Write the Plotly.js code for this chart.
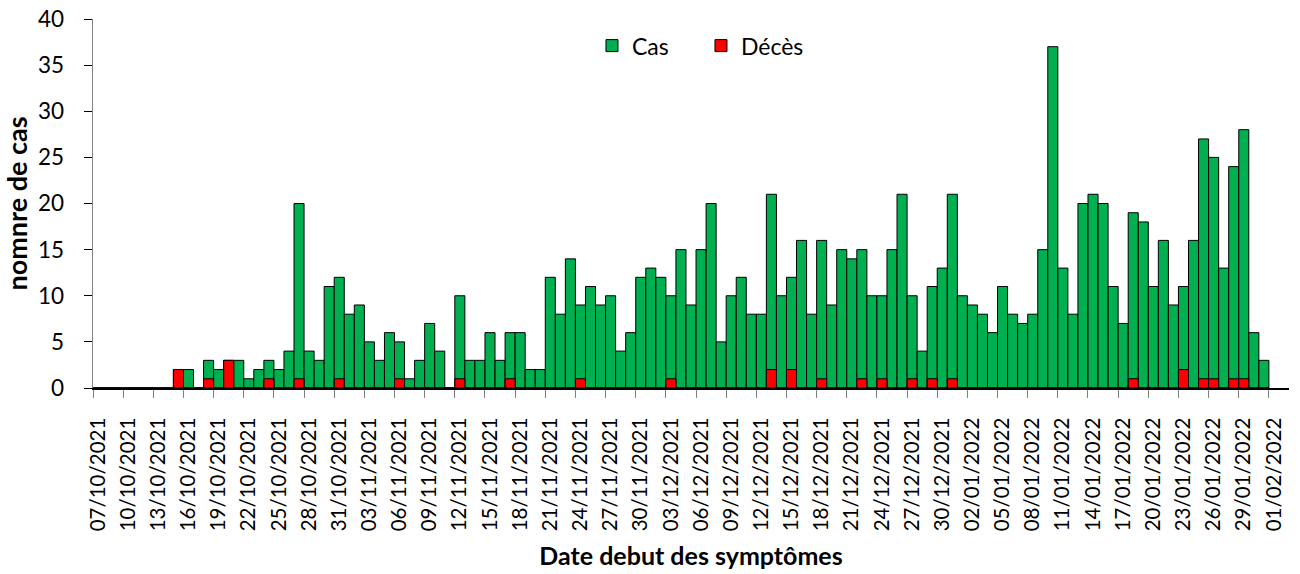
<!DOCTYPE html>
<html>
<head>
<meta charset="utf-8">
<script src="https://cdn.plot.ly/plotly-3.0.1.min.js"></script>
<style>
  html, body { margin: 0; padding: 0; background: #ffffff; }
  #chart { width: 1300px; height: 574px; }
</style>
</head>
<body>
<div id="chart"></div>
<script>
// Dates (date de début des symptômes), one per day
const dates = [
  "2021-10-07","2021-10-08","2021-10-09","2021-10-10","2021-10-11","2021-10-12","2021-10-13","2021-10-14",
  "2021-10-15","2021-10-16","2021-10-17","2021-10-18","2021-10-19","2021-10-20","2021-10-21","2021-10-22",
  "2021-10-23","2021-10-24","2021-10-25","2021-10-26","2021-10-27","2021-10-28","2021-10-29","2021-10-30",
  "2021-10-31","2021-11-01","2021-11-02","2021-11-03","2021-11-04","2021-11-05","2021-11-06","2021-11-07",
  "2021-11-08","2021-11-09","2021-11-10","2021-11-11","2021-11-12","2021-11-13","2021-11-14","2021-11-15",
  "2021-11-16","2021-11-17","2021-11-18","2021-11-19","2021-11-20","2021-11-21","2021-11-22","2021-11-23",
  "2021-11-24","2021-11-25","2021-11-26","2021-11-27","2021-11-28","2021-11-29","2021-11-30","2021-12-01",
  "2021-12-02","2021-12-03","2021-12-04","2021-12-05","2021-12-06","2021-12-07","2021-12-08","2021-12-09",
  "2021-12-10","2021-12-11","2021-12-12","2021-12-13","2021-12-14","2021-12-15","2021-12-16","2021-12-17",
  "2021-12-18","2021-12-19","2021-12-20","2021-12-21","2021-12-22","2021-12-23","2021-12-24","2021-12-25",
  "2021-12-26","2021-12-27","2021-12-28","2021-12-29","2021-12-30","2021-12-31","2022-01-01","2022-01-02",
  "2022-01-03","2022-01-04","2022-01-05","2022-01-06","2022-01-07","2022-01-08","2022-01-09","2022-01-10",
  "2022-01-11","2022-01-12","2022-01-13","2022-01-14","2022-01-15","2022-01-16","2022-01-17","2022-01-18",
  "2022-01-19","2022-01-20","2022-01-21","2022-01-22","2022-01-23","2022-01-24","2022-01-25","2022-01-26",
  "2022-01-27","2022-01-28","2022-01-29","2022-01-30","2022-01-31"
];

// Cas
const cas = [
  0,0,0,0,0,0,0,0,
  2,2,0,3,2,3,3,1,
  2,3,2,4,20,4,3,11,
  12,8,9,5,3,6,5,1,
  3,7,4,0,10,3,3,6,
  3,6,6,2,2,12,8,14,
  9,11,9,10,4,6,12,13,
  12,10,15,9,15,20,5,10,
  12,8,8,21,10,12,16,8,
  16,9,15,14,15,10,10,15,
  21,10,4,11,13,21,10,9,
  8,6,11,8,7,8,15,37,
  13,8,20,21,20,11,7,19,
  18,11,16,9,11,16,27,25,
  13,24,28,6,3
];

// Décès
const deces = [
  0,0,0,0,0,0,0,0,
  2,0,0,1,0,3,0,0,
  0,1,0,0,1,0,0,0,
  1,0,0,0,0,0,1,0,
  0,0,0,0,1,0,0,0,
  0,1,0,0,0,0,0,0,
  1,0,0,0,0,0,0,0,
  0,1,0,0,0,0,0,0,
  0,0,0,2,0,2,0,0,
  1,0,0,0,1,0,1,0,
  0,1,0,1,0,1,0,0,
  0,0,0,0,0,0,0,0,
  0,0,0,0,0,0,0,1,
  0,0,0,0,2,0,1,1,
  0,1,1,0,0
];

const seriesNames = ["Cas", "Décès"];
const yTicks = [0, 5, 10, 15, 20, 25, 30, 35, 40];

const DAY = 86400000;
const FONT = "Lato, 'Open Sans', sans-serif";

const traces = [
  {
    type: "bar",
    name: seriesNames[0],
    x: dates,
    y: cas,
    width: DAY,
    offset: 0,
    marker: { color: "#00B050", line: { color: "#000000", width: 1 } },
    hoverinfo: "x+y"
  },
  {
    type: "bar",
    name: seriesNames[1],
    x: dates,
    y: deces,
    width: DAY,
    offset: 0,
    marker: { color: "#FF0000", line: { color: "#000000", width: 1 } },
    hoverinfo: "x+y"
  }
];

const layout = {
  width: 1300,
  height: 574,
  margin: { l: 93, r: 11, t: 19, b: 186 },
  paper_bgcolor: "#ffffff",
  plot_bgcolor: "#ffffff",
  barmode: "overlay",
  font: { family: FONT, color: "#000000", size: 22 },
  showlegend: true,
  legend: {
    orientation: "h",
    x: 0.4172,
    xanchor: "left",
    y: 0.986,
    yanchor: "top",
    font: { family: FONT, size: 23, color: "#000000" },
    bgcolor: "rgba(0,0,0,0)",
    entrywidth: 64,
    entrywidthmode: "pixels",
    traceorder: "normal"
  },
  xaxis: {
    type: "date",
    range: ["2021-10-07", "2022-02-03"],
    tick0: "2021-10-07",
    dtick: 3 * DAY,
    tickformat: "%d/%m/%Y",
    tickangle: -90,
    ticks: "outside",
    ticklen: 8,
    tickcolor: "#808080",
    tickwidth: 1,
    ticklabelshift: 5,
    ticklabelstandoff: 12,
    tickfont: { family: FONT, size: 20.5, color: "#000000" },
    showline: true,
    linecolor: "#000000",
    linewidth: 1.5,
    showgrid: false,
    zeroline: false,
    fixedrange: true,
    title: {
      text: "Date debut des symptômes",
      font: { family: FONT, size: 25, color: "#000000", weight: "bold" },
      standoff: 17
    }
  },
  yaxis: {
    range: [0, 40],
    tickvals: yTicks,
    ticktext: yTicks.map(String),
    ticks: "outside",
    ticklen: 8,
    tickcolor: "#000000",
    tickwidth: 1,
    ticklabelstandoff: 15,
    tickfont: { family: FONT, size: 22.5, color: "#000000" },
    showline: true,
    linecolor: "#808080",
    linewidth: 1.5,
    showgrid: false,
    zeroline: false,
    fixedrange: true,
    title: {
      text: "nomnre de cas",
      font: { family: FONT, size: 27, color: "#000000", weight: "bold" },
      standoff: 3
    }
  }
};

Plotly.newPlot("chart", traces, layout, { displayModeBar: false, staticPlot: true });
</script>
</body>
</html>
